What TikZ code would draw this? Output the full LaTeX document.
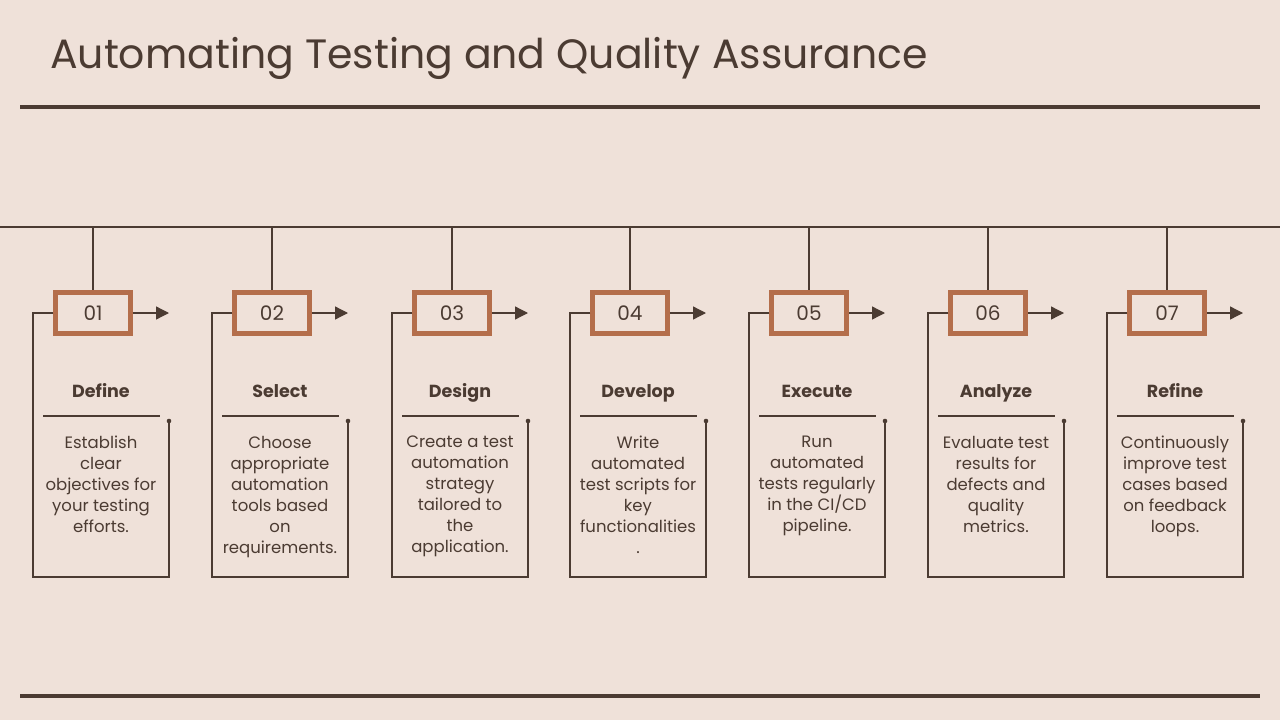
\documentclass[tikz,border=0pt]{standalone}
\usepackage{fontspec}
\setmainfont{Poppins}
\usetikzlibrary{arrows.meta}
\definecolor{bg}{HTML}{EFE1D9}
\definecolor{ink}{HTML}{4B3B32}
\definecolor{rust}{HTML}{B46E4B}
\begin{document}
\begin{tikzpicture}[x=1pt,y=-1pt,
  thinline/.style={draw=ink,line width=1.3pt},
  rule/.style={draw=ink,line width=3.5pt},
  numbox/.style={draw=rust,line width=4.5pt,minimum width=75pt,minimum height=41pt,inner sep=0pt,text=ink,font=\fontsize{20}{22}\selectfont},
  headtxt/.style={text=ink,font=\fontsize{17.5}{21}\selectfont\bfseries,inner sep=0pt,anchor=base},
  desctxt/.style={text=ink,font=\fontsize{16.5}{21}\selectfont,align=center,inner sep=0pt,anchor=north},
  titletxt/.style={text=ink,font=\fontsize{41}{48}\selectfont,inner sep=0pt,anchor=base west},
  arrowline/.style={thinline,-{Triangle[length=13pt,width=13pt]}}
]
\fill[bg] (0,0) rectangle (1280,720);
\useasboundingbox (0,0) rectangle (1280,720);
\node[titletxt] (title) at (50,68) {Automating Testing and Quality Assurance};
\coordinate (r1a) at (20,107); \coordinate (r1b) at (1260,107);
\draw[rule] (r1a) -- (r1b);
\coordinate (r2a) at (20,696); \coordinate (r2b) at (1260,696);
\draw[rule] (r2a) -- (r2b);
\coordinate (tlA) at (0,227); \coordinate (tlB) at (1280,227);
\draw[thinline] (tlA) -- (tlB);
\foreach \i/\c/\h/\d in {
  1/93/Define/{Establish\\clear\\objectives for\\your testing\\efforts.},
  2/272/Select/{Choose\\appropriate\\automation\\tools based\\on\\requirements.},
  3/452/Design/{Create a test\\automation\\strategy\\tailored to\\the\\application.},
  4/630/Develop/{Write\\automated\\test scripts for\\key\\functionalities\\.},
  5/809/Execute/{Run\\automated\\tests regularly\\in the CI/CD\\pipeline.},
  6/988/Analyze/{Evaluate test\\results for\\defects and\\quality\\metrics.},
  7/1167/Refine/{Continuously\\improve test\\cases based\\on feedback\\loops.}}{
  \coordinate (t\i) at (\c,227);
  \node[numbox] (b\i) at (\c,313) {0\i};
  \draw[thinline] (t\i) -- (b\i.north);
  \coordinate (a\i) at (\c+76,313);
  \draw[arrowline] (b\i.east) -- (a\i);
  \coordinate (k\i) at (\c-60,313);
  \coordinate (l\i) at (\c-60,577);
  \coordinate (m\i) at (\c+76,577);
  \coordinate (d\i) at (\c+76,421);
  \draw[thinline] (b\i.west) -- (k\i) -- (l\i) -- (m\i) -- (d\i);
  \fill[ink] (d\i) circle (2.3pt);
  \node[headtxt] (h\i) at (\c+8,397) {\h};
  \coordinate (s\i) at (\c-50,416); \coordinate (e\i) at (\c+67,416);
  \draw[thinline] (s\i) -- (e\i);
  \node[desctxt] (x\i) at (\c+8,436) {\d};
}
\end{tikzpicture}
\end{document}
